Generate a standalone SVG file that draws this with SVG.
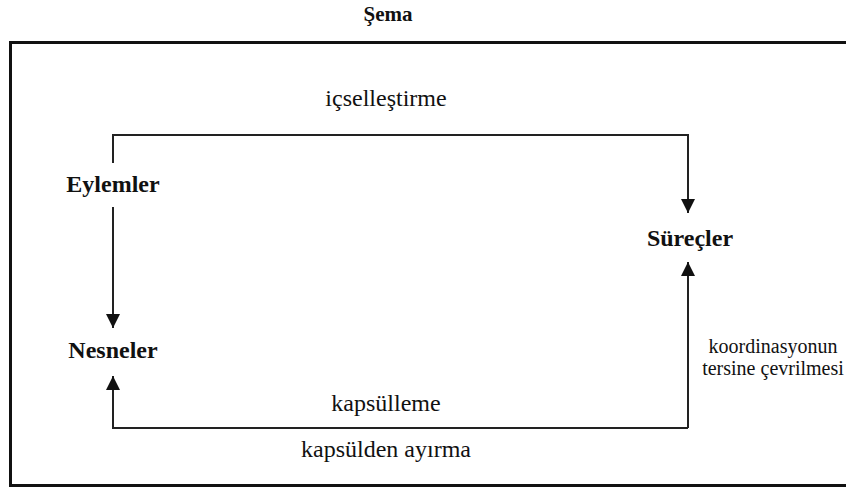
<svg xmlns="http://www.w3.org/2000/svg" width="846" height="492" viewBox="0 0 846 492">
<style>
text{font-family:'Liberation Serif','Times New Roman',Times,serif;fill:#111;text-anchor:middle}
.b{font-weight:bold;font-size:24px}
.r{font-size:24px}
.s{font-size:20px}
.ln{fill:none;stroke:#222;stroke-width:2}
</style>
<defs>
<marker id="ah" markerUnits="userSpaceOnUse" markerWidth="14" markerHeight="16" viewBox="0 0 14 16" refX="14" refY="7" orient="auto">
<path d="M0,0 L14,7 L0,14 z" fill="#111"/>
</marker>
</defs>
<rect x="10.5" y="42.5" width="850" height="443" fill="none" stroke="#111" stroke-width="3"/>
<text class="b" x="388" y="21" style="font-size:21px">Şema</text>
<g id="connectors">
<polyline class="ln" points="113,163 113,135 688,135 688,213" marker-end="url(#ah)"/>
<line class="ln" x1="113" y1="207" x2="113" y2="328" marker-end="url(#ah)"/>
<polyline class="ln" points="688,428 113,428 113,376" marker-end="url(#ah)"/>
<line class="ln" x1="688" y1="428" x2="688" y2="262" marker-end="url(#ah)"/>
</g>
<g id="eylemler"><text class="b" x="113" y="192">Eylemler</text></g>
<g id="nesneler"><text class="b" x="113" y="358">Nesneler</text></g>
<g id="surecler"><text class="b" x="690" y="246">Süreçler</text></g>
<g id="labels">
<text class="r" x="386" y="106">içselleştirme</text>
<text class="r" x="386" y="411">kapsülleme</text>
<text class="r" x="386" y="457">kapsülden ayırma</text>
<text class="s" x="773" y="353">koordinasyonun</text>
<text class="s" x="773" y="375">tersine çevrilmesi</text>
</g>
</svg>
